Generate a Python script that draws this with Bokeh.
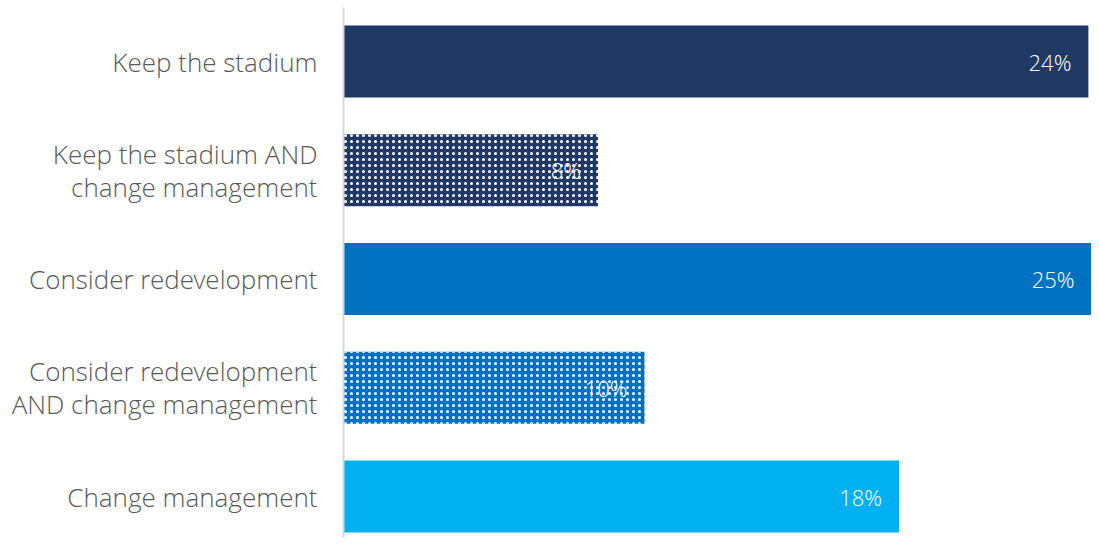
from bokeh.plotting import figure
from bokeh.models import Range1d, FixedTicker, ColumnDataSource, LabelSet
from bokeh.core.properties import value
from bokeh.embed import file_html
from bokeh.resources import INLINE

categories = [
    "Keep the stadium",
    "Keep the stadium AND\nchange management",
    "Consider redevelopment",
    "Consider redevelopment\nAND change management",
    "Change management",
]
values = [24.0, 8.2, 24.7, 9.7, 17.9]
colors = ["#203864", "#203864", "#0070c0", "#0070c0", "#00b0f0"]
patterns = [" ", "dot", " ", "dot", " "]

X_END = 24.1
positions = list(range(len(categories)))
value_labels = [f"{round(v)}%" for v in values]
label_x = [min(v, X_END) for v in values]

src = ColumnDataSource(dict(pos=positions, value=values, color=colors,
                            pattern=patterns, label=value_labels, lx=label_x))

FONT = "Open Sans Light"

p = figure(width=1091, height=537, output_backend="svg", toolbar_location=None,
           x_range=Range1d(0, X_END), y_range=Range1d(4.377, -0.4966),
           x_axis_location=None, min_border_left=343, min_border_right=0,
           min_border_top=7, min_border_bottom=0)
p.outline_line_color = None
p.grid.visible = False
p.background_fill_color = "white"

p.hbar(y="pos", right="value", left=0, height=0.662, source=src,
       fill_color="color", line_color=None,
       hatch_pattern="pattern", hatch_color="white", hatch_scale=6, hatch_weight=1.5)

labels = LabelSet(x="lx", y="pos", text="label", source=src, x_offset=-17,
                  text_align="right", text_baseline="middle", text_color="white",
                  text_font_size="22px", text_font=value(FONT))
p.add_layout(labels)

ax = p.yaxis[0]
ax.ticker = FixedTicker(ticks=positions)
ax.major_label_overrides = {i: c for i, c in zip(positions, categories)}
ax.axis_line_color = "#d9d9d9"
ax.axis_line_width = 2
ax.major_tick_line_color = None
ax.minor_tick_line_color = None
ax.major_label_standoff = 20
ax.major_label_text_font = FONT
ax.major_label_text_font_size = "26px"
ax.major_label_text_line_height = 0.92
ax.major_label_text_color = "#595959"

open("out.html", "w").write(file_html(p, INLINE))
